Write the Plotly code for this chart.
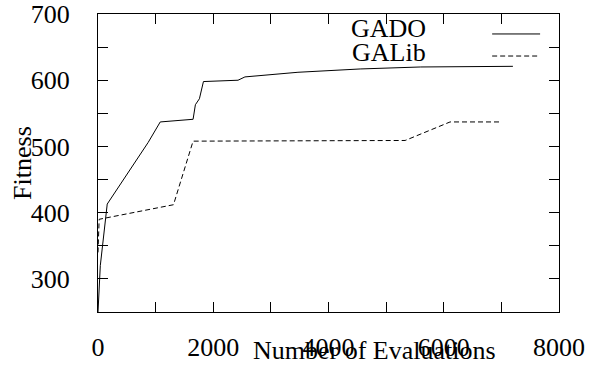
import plotly.graph_objects as go

# GADO (solid)
gado_x = [0, 40, 160, 870, 1080, 1650, 1690, 1760, 1830, 2430, 2550, 3470, 4550, 5600, 7200]
gado_y = [250, 320, 413, 506, 537, 541, 563, 572, 598, 600, 605, 612, 617, 620, 621]
# GALib (dashed)
galib_x = [0, 20, 1310, 1650, 5330, 6110, 7010]
galib_y = [340, 390, 412, 508, 509, 537, 537]

series_names = ["GADO", "GALib"]
x_title = "Number of Evaluations"
y_title = "Fitness"

FONT = "Liberation Serif, Times New Roman, serif"
FS = 26

fig = go.Figure()
fig.add_trace(go.Scatter(x=gado_x, y=gado_y, mode="lines", name=series_names[0],
                         line=dict(color="black", width=1)))
fig.add_trace(go.Scatter(x=galib_x, y=galib_y, mode="lines", name=series_names[1],
                         line=dict(color="black", width=1, dash="5px,3px")))

axis_common = dict(showline=True, linecolor="black", linewidth=1, mirror="allticks",
                   ticks="inside", ticklen=10, tickcolor="black", tickwidth=1,
                   showgrid=False, zeroline=False, automargin=False,
                   ticklabeloverflow="allow",
                   tickfont=dict(family=FONT, size=FS, color="black"))

fig.update_xaxes(range=[0, 8000], dtick=2000, tick0=0, ticklabelstandoff=12,
                 minor=dict(dtick=1000, ticks="inside", ticklen=10, tickcolor="black"),
                 **axis_common)
fig.update_yaxes(range=[250, 700], dtick=100, tick0=300, ticklabelstandoff=22,
                 minor=dict(dtick=50, tick0=250, ticks="inside", ticklen=10, tickcolor="black"),
                 **axis_common)

# axis titles
fig.add_annotation(text=x_title, xref="paper", yref="paper", x=0.599, y=-0.13,
                   xanchor="center", yanchor="middle", showarrow=False,
                   font=dict(family=FONT, size=FS, color="black"))
fig.add_annotation(text=y_title, xref="paper", yref="paper", x=-0.165, y=0.5,
                   xanchor="center", yanchor="middle", textangle=-90, showarrow=False,
                   font=dict(family=FONT, size=FS, color="black"))

# gnuplot-style key
key_text_y = [0.95, 0.87]
key_line_y = [0.933, 0.859]
for name, dash, ty, ly in zip(series_names, ["solid", "5px,3px"], key_text_y, key_line_y):
    fig.add_annotation(text=name, xref="paper", yref="paper", x=0.715, y=ty,
                       xanchor="right", yanchor="middle", showarrow=False,
                       font=dict(family=FONT, size=FS, color="black"))
    fig.add_shape(type="line", xref="paper", yref="paper", x0=0.855, x1=0.959,
                  y0=ly, y1=ly, line=dict(color="black", width=1, dash=dash))

fig.update_layout(width=597, height=371, showlegend=False,
                  plot_bgcolor="white", paper_bgcolor="white",
                  hovermode=False,
                  margin=dict(l=98, r=38, t=14, b=59))

# remove the default 8px page margin so the figure fills the window exactly
fig.write_html("out.html",
               config={"displayModeBar": False, "staticPlot": True},
               post_script="document.body.style.margin='0';document.body.style.overflow='hidden';")
